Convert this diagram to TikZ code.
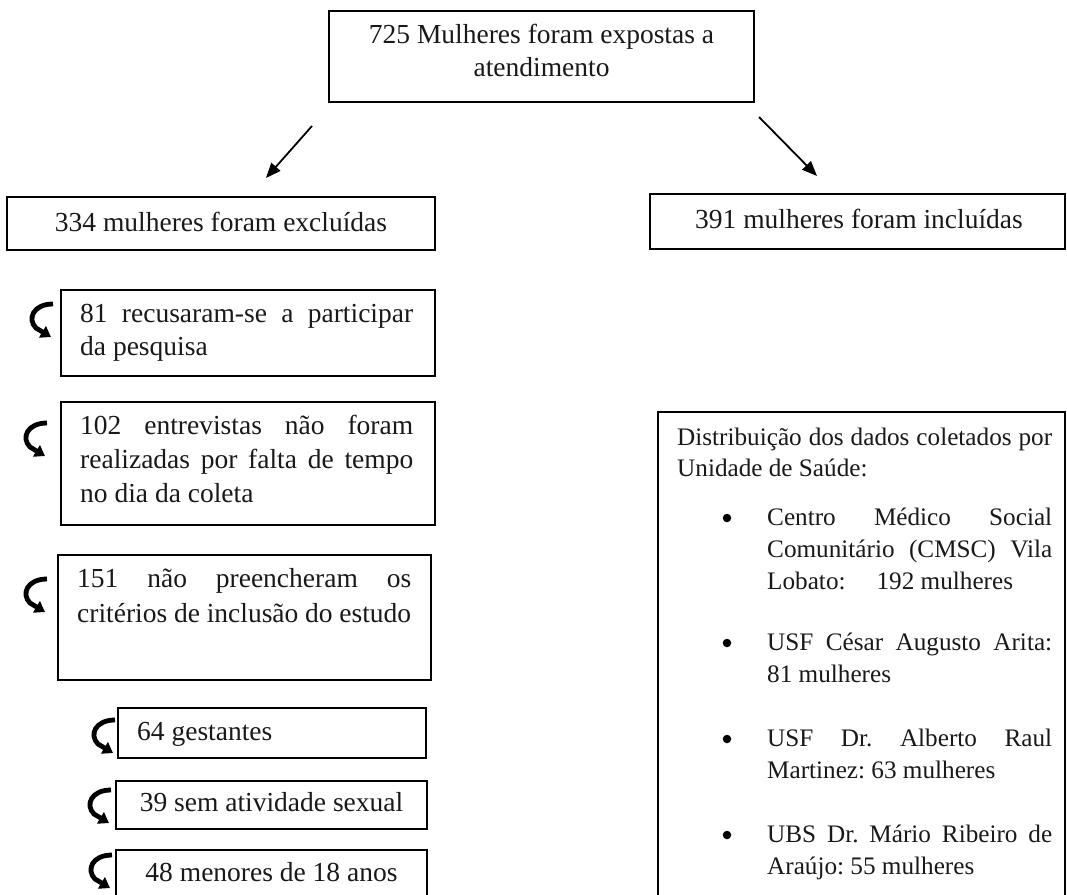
\documentclass[tikz,border=0pt]{standalone}
\usepackage{fontspec}
\setmainfont{Liberation Serif}
\usetikzlibrary{arrows.meta}
\newcommand\fntA{\fontsize{27.5}{33}\selectfont}
\newcommand\fntB{\fontsize{25.2}{31}\selectfont}
\newcommand\jl[2]{\makebox[#1pt][s]{#2}}
\frenchspacing
\tikzset{
  box/.style={draw=black, line width=1.5pt, inner sep=0pt, minimum width=#1},
  lbl/.style={inner sep=0pt, anchor=base west, font=\fntA, text=black!90},
  clbl/.style={inner sep=0pt, anchor=base, font=\fntA, text=black!90},
  rlbl/.style={inner sep=0pt, anchor=base west, font=\fntB, text=black!90},
  arr/.style={line width=1.8pt, -{Triangle[length=15pt,width=12pt]}},
  bul/.style={circle, fill=black, inner sep=0pt, minimum size=8.5pt},
  curv/.pic={\draw[line width=4.8pt, -{Triangle[length=10pt,width=13pt]}]
     (26,3) .. controls (6,3) and (0,18) .. (9,27) -- (24,36);}
}
\begin{document}
\begin{tikzpicture}[x=1pt, y=-1pt]
\useasboundingbox (0,0) rectangle (1067,894);
\clip (0,0) rectangle (1067,894);
\fill[white] (0,0) rectangle (1067,894);

% top box
\node[box=425pt, minimum height=91pt] (top) at (541.5,56.5) {};
\node[clbl] (t1) at (541.5,43) {725 Mulheres foram expostas a};
\node[clbl] (t2) at (541.5,76) {atendimento};

% arrows
\coordinate (a1s) at (312,126); \coordinate (a1e) at (266,178);
\coordinate (a2s) at (759,117); \coordinate (a2e) at (817,176);
\draw[arr] (a1s) -- (a1e);
\draw[arr] (a2s) -- (a2e);

% excluded / included
\node[box=428pt, minimum height=53pt] (exc) at (221,223.5) {};
\node[clbl] (exct) at (221,231) {334 mulheres foram excluídas};
\node[box=415pt, minimum height=55pt] (inc) at (857.5,221.5) {};
\node[clbl] (inct) at (859,228) {391 mulheres foram incluídas};

% 81 box
\node[box=374pt, minimum height=86pt] (b81) at (248,333) {};
\node[lbl] (b81a) at (80,322) {\jl{333}{81 recusaram-se a participar}};
\node[lbl] (b81b) at (80,355) {da pesquisa};
\pic (c81) at (27,301) {curv};

% 102 box
\node[box=374pt, minimum height=123pt] (b102) at (248,463.5) {};
\node[lbl] (b102a) at (80,434) {\jl{333}{102 entrevistas não foram}};
\node[lbl] (b102b) at (80,468) {\jl{333}{realizadas por falta de tempo}};
\node[lbl] (b102c) at (80,502) {no dia da coleta};
\pic (c102) at (21,420) {curv};

% 151 box
\node[box=373pt, minimum height=125pt] (b151) at (244.5,617.5) {};
\node[lbl] (b151a) at (77,587) {\jl{334}{151 não preencheram os}};
\node[lbl] (b151b) at (77,622) {\jl{334}{critérios de inclusão do estudo}};
\pic (c151) at (21,576) {curv};

% sub boxes
\node[box=308pt, minimum height=50pt] (b64) at (272,733) {};
\node[lbl] (b64t) at (137,740) {64 gestantes};
\pic (c64) at (89,717) {curv};

\node[box=311pt, minimum height=48pt] (b39) at (271.5,805) {};
\node[clbl] (b39t) at (271.5,811) {39 sem atividade sexual};
\pic (c39) at (85,787) {curv};

\node[box=311pt, minimum height=60pt] (b48) at (271.5,880) {};
\node[clbl] (b48t) at (271.5,881) {48 menores de 18 anos};
\pic (c48) at (86,852) {curv};

% right big box
\node[box=407pt, minimum height=500pt] (dist) at (861.5,662) {};
\node[rlbl] (d1) at (677,445) {\jl{375}{Distribuição dos dados coletados por}};
\node[rlbl] (d2) at (677,476) {Unidade de Saúde:};

\node[bul] (p1) at (727,518) {};
\node[rlbl] (e1a) at (767,525) {\jl{285}{Centro Médico Social}};
\node[rlbl] (e1b) at (767,557) {\jl{285}{Comunitário (CMSC) Vila}};
\node[rlbl] (e1c) at (767,589) {Lobato:\hspace{31pt}192 mulheres};

\node[bul] (p2) at (727,643) {};
\node[rlbl] (e2a) at (767,650) {\jl{285}{USF César Augusto Arita:}};
\node[rlbl] (e2b) at (767,682) {81 mulheres};

\node[bul] (p3) at (727,739) {};
\node[rlbl] (e3a) at (767,746) {\jl{285}{USF Dr. Alberto Raul}};
\node[rlbl] (e3b) at (767,778) {Martinez: 63 mulheres};

\node[bul] (p4) at (727,835) {};
\node[rlbl] (e4a) at (767,842) {\jl{285}{UBS Dr. Mário Ribeiro de}};
\node[rlbl] (e4b) at (767,874) {Araújo: 55 mulheres};
\end{tikzpicture}
\end{document}
